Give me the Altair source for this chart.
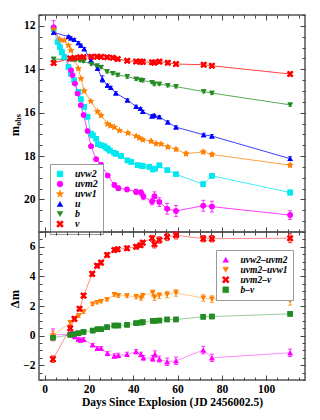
import altair as alt
import pandas as pd

# ---------------- data: top panel (observed magnitudes) ----------------
UVW2_DAY = [4.1, 5.9, 6.9, 7.8, 8.9, 10.8, 11.9, 13.4, 15.3, 16.4,
            17.9, 19.4, 21.0, 21.8, 23.3, 24.0, 25.5, 27.0, 27.8, 28.6,
            29.5, 31.4, 32.3, 34.5, 37.4, 39.1, 42.0, 43.6, 44.3, 47.3,
            48.8, 49.9, 51.8, 55.4, 59.3, 71.6, 75.5, 110.8]
UVW2_MAG = [12.14, 12.75, 12.98, 13.21, 13.44, 13.90, 14.20, 14.51, 15.05, 15.38,
            15.73, 16.19, 16.97, 17.05, 17.20, 17.45, 17.50, 17.55, 17.62, 17.66,
            17.75, 17.85, 17.90, 18.00, 18.20, 18.27, 18.42, 18.44, 18.46, 18.50,
            18.62, 18.58, 18.43, 18.65, 18.84, 19.30, 18.91, 19.68]
UVW2_ERR = [0.06, 0.05, 0.05, 0.05, 0.05, 0.05, 0.05, 0.05, 0.05, 0.05,
            0.05, 0.05, 0.05, 0.05, 0.05, 0.05, 0.05, 0.05, 0.05, 0.05,
            0.05, 0.05, 0.05, 0.05, 0.05, 0.05, 0.05, 0.05, 0.05, 0.06,
            0.06, 0.06, 0.06, 0.07, 0.07, 0.10, 0.10, 0.12]

UVM2_DAY = [4.1, 11.9, 12.6, 13.7, 14.9, 16.4, 17.6, 19.4, 21.0, 23.3,
            25.5, 28.5, 31.5, 33.3, 37.2, 41.3, 43.5, 44.6, 48.5, 49.6,
            51.8, 55.3, 59.3, 71.6, 75.5, 110.8]
UVM2_MAG = [12.06, 14.05, 14.28, 14.66, 15.12, 15.66, 16.11, 16.85, 17.55, 18.15,
            18.40, 18.90, 19.33, 19.48, 19.54, 19.65, 19.68, 19.86, 20.10, 19.85,
            20.12, 20.43, 20.53, 20.29, 20.33, 20.72]
UVM2_ERR = [0.30, 0.05, 0.05, 0.05, 0.05, 0.05, 0.05, 0.06, 0.06, 0.07,
            0.07, 0.08, 0.10, 0.10, 0.10, 0.12, 0.12, 0.15, 0.15, 0.20,
            0.20, 0.25, 0.25, 0.25, 0.25, 0.20]

UVW1_DAY = [4.1, 6.9, 8.9, 10.8, 11.9, 13.4, 15.3, 16.4, 17.9, 20.9,
            23.9, 25.5, 28.4, 29.7, 31.5, 33.8, 37.6, 41.3, 42.8, 44.3,
            48.1, 50.3, 52.6, 55.6, 59.3, 63.8, 71.6, 75.5, 110.8]
UVW1_MAG = [12.14, 12.63, 12.67, 12.90, 13.13, 13.51, 13.97, 14.43, 15.00, 15.48,
            15.95, 16.13, 16.52, 16.60, 16.67, 16.82, 16.94, 17.08, 17.17, 17.25,
            17.32, 17.43, 17.45, 17.58, 17.69, 17.89, 17.81, 17.93, 18.42]
UVW1_ERR = [0.08, 0.05, 0.05, 0.05, 0.05, 0.05, 0.05, 0.05, 0.05, 0.05,
            0.05, 0.05, 0.05, 0.05, 0.05, 0.05, 0.05, 0.05, 0.06, 0.06,
            0.06, 0.06, 0.06, 0.07, 0.07, 0.08, 0.08, 0.08, 0.08]

U_DAY = [4.1, 10.8, 11.9, 13.4, 15.3, 16.4, 17.9, 20.9, 23.9, 26.1,
         28.4, 29.9, 32.2, 37.4, 41.3, 43.3, 44.3, 48.5, 49.5, 51.8,
         55.6, 59.3, 71.8, 75.5, 110.8]
U_MAG = [12.30, 12.50, 12.57, 12.64, 12.78, 12.90, 13.06, 13.59, 13.97, 14.45,
         14.74, 14.85, 15.10, 15.42, 15.72, 15.82, 15.95, 16.16, 16.13, 16.20,
         16.44, 16.67, 17.02, 17.08, 18.12]
U_ERR = [0.06, 0.06, 0.06, 0.06, 0.06, 0.06, 0.06, 0.06, 0.06, 0.15,
         0.06, 0.06, 0.06, 0.06, 0.06, 0.06, 0.06, 0.06, 0.06, 0.06,
         0.06, 0.06, 0.07, 0.07, 0.09]

BV_DAY = [4.1, 11.6, 13.5, 16.0, 17.6, 21.1, 23.7, 25.5, 28.2, 30.8,
          33.0, 37.3, 41.3, 43.3, 44.3, 48.5, 49.5, 51.8, 55.6, 59.3,
          71.8, 75.5, 110.8]
B_MAG = [13.53, 13.56, 13.58, 13.60, 13.64, 13.76, 13.84, 13.91, 14.11, 14.19,
         14.27, 14.34, 14.45, 14.50, 14.52, 14.60, 14.68, 14.68, 14.75, 14.80,
         15.03, 15.10, 15.64]
B_ERR = [0.05, 0.05, 0.05, 0.05, 0.05, 0.05, 0.05, 0.05, 0.06, 0.06,
         0.06, 0.08, 0.06, 0.06, 0.06, 0.06, 0.08, 0.06, 0.06, 0.06,
         0.06, 0.06, 0.06]
V_MAG = [13.71, 13.50, 13.48, 13.45, 13.44, 13.42, 13.42, 13.43, 13.45, 13.47,
         13.53, 13.61, 13.64, 13.65, 13.66, 13.68, 13.70, 13.65, 13.70, 13.76,
         13.79, 13.84, 14.22]
V_ERR = [0.09, 0.08, 0.08, 0.08, 0.07, 0.08, 0.08, 0.08, 0.07, 0.08,
         0.08, 0.08, 0.08, 0.08, 0.07, 0.08, 0.08, 0.08, 0.08, 0.08,
         0.08, 0.08, 0.09]

# ---------------- data: bottom panel (colours) ----------------
C1_DAY = [3.8, 11.6, 12.8, 13.7, 15.3, 16.4, 17.6, 21.7, 23.8, 25.5,
          28.4, 31.5, 33.3, 37.2, 41.3, 43.5, 44.6, 48.8, 49.8, 51.8,
          55.3, 59.3, 71.6, 75.5, 110.8]
C1_VAL = [0.05, 0.09, 0.11, -0.07, -0.23, -0.30, -0.25, -0.63, -0.86, -0.86,
          -1.20, -1.38, -1.34, -1.27, -1.09, -1.27, -1.50, -1.54, -1.25, -1.59,
          -1.77, -1.70, -0.98, -1.50, -1.16]
C1_ERR = [0.40, 0.15, 0.15, 0.15, 0.12, 0.12, 0.12, 0.10, 0.12, 0.12,
          0.12, 0.15, 0.15, 0.15, 0.15, 0.15, 0.15, 0.20, 0.22, 0.20,
          0.25, 0.25, 0.25, 0.25, 0.25]

C2_DAY = [3.8, 11.6, 13.5, 15.5, 17.6, 21.7, 23.7, 25.5, 28.2, 31.5,
          33.3, 37.2, 41.3, 43.5, 44.3, 48.8, 49.6, 51.8, 55.3, 59.3,
          71.6, 75.5, 110.8]
C2_VAL = [0.00, 0.88, 1.13, 1.34, 1.61, 2.13, 2.24, 2.31, 2.43, 2.77,
          2.70, 2.68, 2.63, 2.54, 2.70, 2.88, 2.58, 2.70, 2.77, 2.88,
          2.54, 2.47, 2.36]
C2_ERR = [0.30, 0.15, 0.12, 0.12, 0.12, 0.10, 0.10, 0.10, 0.10, 0.12,
          0.12, 0.12, 0.15, 0.15, 0.15, 0.20, 0.20, 0.20, 0.22, 0.22,
          0.22, 0.22, 0.30]

C3_DAY = [3.8, 11.6, 13.5, 15.8, 17.6, 21.5, 23.7, 25.5, 28.2, 31.5,
          33.0, 37.2, 41.3, 43.3, 44.3, 48.5, 49.6, 51.8, 55.3, 59.3,
          71.6, 75.5, 110.8]
C3_VAL = [-1.59, 0.50, 1.13, 1.81, 2.70, 4.17, 4.72, 4.93, 5.44, 5.78,
          5.83, 5.90, 6.00, 6.10, 6.28, 6.58, 6.17, 6.46, 6.67, 6.78,
          6.55, 6.55, 6.58]
C3_ERR = [0.22, 0.20, 0.15, 0.15, 0.15, 0.15, 0.15, 0.15, 0.15, 0.15,
          0.15, 0.15, 0.15, 0.15, 0.15, 0.20, 0.25, 0.22, 0.25, 0.25,
          0.22, 0.22, 0.30]

C4_DAY = [3.8, 11.6, 13.2, 15.3, 17.6, 21.7, 23.9, 25.5, 28.2, 31.5,
          33.3, 37.2, 41.3, 43.5, 44.3, 48.8, 49.8, 51.8, 55.3, 59.3,
          71.6, 75.5, 110.8]
C4_VAL = [-0.14, 0.05, 0.09, 0.16, 0.25, 0.34, 0.43, 0.43, 0.57, 0.68,
          0.68, 0.73, 0.84, 0.88, 0.91, 1.00, 1.00, 1.02, 1.09, 1.09,
          1.27, 1.29, 1.47]
C4_ERR = [0.10, 0.08, 0.08, 0.08, 0.08, 0.08, 0.08, 0.08, 0.08, 0.08,
          0.08, 0.08, 0.08, 0.08, 0.08, 0.08, 0.08, 0.08, 0.08, 0.08,
          0.06, 0.06, 0.06]

TOP_NAMES = ["uvw2", "uvm2", "uvw1", "u", "b", "v"]
BOT_NAMES = ["uvw2\u2013uvm2", "uvm2\u2013uvw1", "uvm2\u2013v", "b\u2013v"]

X_MAJOR = [0, 20, 40, 60, 80, 100]
X_MINOR = [0, 5, 10, 15, 20, 25, 30, 35, 40, 45, 50, 55, 60, 65, 70, 75,
           80, 85, 90, 95, 100, 105, 110, 115]
TOP_Y_MAJOR = [12, 14, 16, 18, 20]
TOP_Y_MINOR = [11.5, 12, 12.5, 13, 13.5, 14, 14.5, 15, 15.5, 16, 16.5, 17,
               17.5, 18, 18.5, 19, 19.5, 20, 20.5, 21, 21.5]
BOT_Y_MAJOR = [-2, 0, 2, 4, 6]
BOT_Y_MINOR = [-3, -2.5, -2, -1.5, -1, -0.5, 0, 0.5, 1, 1.5, 2, 2.5, 3, 3.5,
               4, 4.5, 5, 5.5, 6, 6.5, 7]

# ---------------- styling ----------------
FONT = "Liberation Serif"
W = 266
H_TOP = 217
H_BOT = 148
XDOM = [-2.5, 117.5]
STAR = ("M0,-1.35L0.317,-0.437L1.284,-0.417L0.513,0.167L0.794,1.092L0,0.54"
        "L-0.794,1.092L-0.513,0.167L-1.284,-0.417L-0.317,-0.437Z")
XSYM = ("M1.2,-0.65L0.55,0L1.2,0.65L0.65,1.2L0,0.55L-0.65,1.2L-1.2,0.65L-0.55,0"
        "L-1.2,-0.65L-0.65,-1.2L0,-0.55L0.65,-1.2Z")

TOP_COLORS = ["#00e8f0", "#ff00ff", "#ff8000", "#0000ff", "#228b22", "#ff0000"]
TOP_SHAPES = ["square", "circle", STAR, "triangle-up", "triangle-down", XSYM]
BOT_COLORS = ["#ff00ff", "#ff8000", "#ff0000", "#228b22"]
BOT_SHAPES = ["triangle-up", "triangle-down", XSYM, "square"]
TICK_COLOR = "#444444"


def build_table(names, days, vals, errs):
    frames = []
    for n, d, v, e in zip(names, days, vals, errs):
        f = pd.DataFrame({"day": d, "val": v, "err": e})
        f["series"] = n
        frames.append(f)
    df = pd.concat(frames, ignore_index=True)
    df["lo"] = df["val"] - df["err"]
    df["hi"] = df["val"] + df["err"]
    return df


top_df = build_table(TOP_NAMES,
                     [UVW2_DAY, UVM2_DAY, UVW1_DAY, U_DAY, BV_DAY, BV_DAY],
                     [UVW2_MAG, UVM2_MAG, UVW1_MAG, U_MAG, B_MAG, V_MAG],
                     [UVW2_ERR, UVM2_ERR, UVW1_ERR, U_ERR, B_ERR, V_ERR])
bot_df = build_table(BOT_NAMES,
                     [C1_DAY, C2_DAY, C3_DAY, C4_DAY],
                     [C1_VAL, C2_VAL, C3_VAL, C4_VAL],
                     [C1_ERR, C2_ERR, C3_ERR, C4_ERR])


def text_layer(txt, x, y, size):
    return alt.Chart(pd.DataFrame({"t": [txt]})).mark_text(
        angle=270, align="center", baseline="middle", font=FONT,
        fontWeight="bold", fontSize=size, color="black"
    ).encode(x=alt.value(x), y=alt.value(y), text="t:N")


def plain_axis(orient, values, size):
    return alt.Axis(orient=orient, values=values, offset=-size, tickSize=size,
                    labels=False, title=None, grid=False, domain=False,
                    tickColor=TICK_COLOR)


def make_panel(df, names, colors, shapes, ydom, yrev, ymaj, ymin,
               height, show_x, lx, ly, lfont, lrow, line_op, texts):
    xs = alt.Scale(domain=XDOM, nice=False, zero=False)
    ys = alt.Scale(domain=ydom, reverse=yrev, nice=False, zero=False)
    cs = alt.Scale(domain=names, range=colors)
    ss = alt.Scale(domain=names, range=shapes)
    base = alt.Chart(df)
    col_nl = alt.Color("series:N", scale=cs, legend=None)
    X0 = alt.X("day:Q", scale=xs, axis=None)

    leg = alt.Legend(orient="none", legendX=lx, legendY=ly, title=None,
                     labelFont=FONT, labelFontStyle="italic",
                     labelFontWeight="bold", labelFontSize=lfont,
                     labelColor="black", symbolSize=34, symbolOpacity=1,
                     symbolStrokeWidth=0.5, rowPadding=lrow,
                     padding=5, strokeColor="#999999", fillColor="white",
                     labelOffset=10)

    # first layer carries the legend
    pts_leg = base.mark_point(filled=True, size=30, opacity=1).encode(
        x=X0, y=alt.Y("val:Q", scale=ys, axis=None),
        color=alt.Color("series:N", scale=cs, legend=leg),
        shape=alt.Shape("series:N", scale=ss, legend=leg))
    lines = base.mark_line(strokeWidth=1, opacity=line_op).encode(
        x=X0, y=alt.Y("val:Q", scale=ys, axis=None), color=col_nl)
    rules = base.mark_rule(strokeWidth=1, opacity=0.8).encode(
        x=X0, y=alt.Y("lo:Q", scale=ys, axis=None), y2="hi:Q", color=col_nl)
    cap_lo = base.mark_tick(orient="horizontal", size=4, thickness=1, opacity=0.8).encode(
        x=X0, y=alt.Y("lo:Q", scale=ys, axis=None), color=col_nl)
    cap_hi = base.mark_tick(orient="horizontal", size=4, thickness=1, opacity=0.8).encode(
        x=X0, y=alt.Y("hi:Q", scale=ys, axis=None), color=col_nl)
    pts = base.mark_point(filled=True, size=30, opacity=1).encode(
        x=X0, y=alt.Y("val:Q", scale=ys, axis=None),
        color=col_nl, shape=alt.Shape("series:N", scale=ss, legend=None))

    lab = dict(labelFont=FONT, labelFontWeight="bold", labelFontSize=11.5,
               labelColor="black", grid=False, domain=False, tickColor=TICK_COLOR)
    if show_x:
        xa_b1 = alt.Axis(orient="bottom", values=X_MAJOR, offset=-5, tickSize=5,
                         labels=True, labelPadding=3,
                         title="Days Since Explosion (JD 2456002.5)",
                         titleFont=FONT, titleFontWeight="bold", titleFontSize=11.5,
                         titleColor="black", titlePadding=2, **lab)
    else:
        xa_b1 = plain_axis("bottom", X_MAJOR, 5)
    ya_l1 = alt.Axis(orient="left", values=ymaj, offset=-5, tickSize=5,
                     labelPadding=4, title=None, **lab)

    def ax_layer(xa, ya):
        return base.mark_point(opacity=0).encode(
            x=alt.X("day:Q", scale=xs, axis=xa),
            y=alt.Y("val:Q", scale=ys, axis=ya))

    layers = [pts_leg, lines, rules, cap_lo, cap_hi, pts,
              ax_layer(xa_b1, ya_l1),
              ax_layer(plain_axis("bottom", X_MINOR, 3), plain_axis("left", ymin, 3)),
              ax_layer(plain_axis("top", X_MAJOR, 5), plain_axis("right", ymaj, 5)),
              ax_layer(plain_axis("top", X_MINOR, 3), plain_axis("right", ymin, 3))] + texts
    return alt.layer(*layers).resolve_axis(x="independent", y="independent").properties(
        width=W, height=height)


top = make_panel(top_df, TOP_NAMES, TOP_COLORS, TOP_SHAPES,
                 [11.5, 21.5], True, TOP_Y_MAJOR, TOP_Y_MINOR, H_TOP, False,
                 11, 149, 10, -2.5, 0.75,
                 [text_layer("m", -24, 116, 12.5), text_layer("obs", -20.5, 105, 8)])
bot = make_panel(bot_df, BOT_NAMES, BOT_COLORS, BOT_SHAPES,
                 [-3, 7], False, BOT_Y_MAJOR, BOT_Y_MINOR, H_BOT, True,
                 177, 18, 9.5, -3, 0.45,
                 [text_layer("\u0394m", -24, 67, 12.5)])

chart = alt.vconcat(top, bot, spacing=0, bounds="flush").resolve_scale(
    color="independent", shape="independent"
).configure_view(stroke="#555555", strokeWidth=1.5).properties(
    padding={"left": 0, "top": 5, "right": 5, "bottom": 5})

chart.save("out.html", embed_options={"renderer": "svg", "actions": False})
